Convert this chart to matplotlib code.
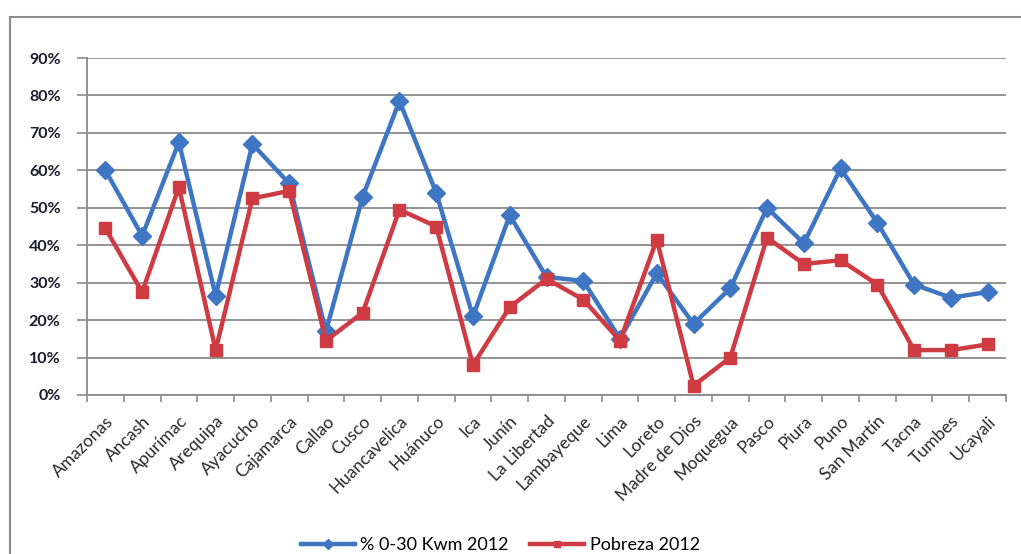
import numpy as np
import matplotlib.pyplot as plt
from matplotlib.patches import Rectangle
from matplotlib.ticker import FuncFormatter, FixedLocator

plt.rcParams['font.family'] = ['Lato', 'DejaVu Sans']

regiones = ['Amazonas', 'Ancash', 'Apurímac', 'Arequipa', 'Ayacucho', 'Cajamarca',
            'Callao', 'Cusco', 'Huancavelica', 'Huánuco', 'Ica', 'Junín',
            'La Libertad', 'Lambayeque', 'Lima', 'Loreto', 'Madre de Dios',
            'Moquegua', 'Pasco', 'Piura', 'Puno', 'San Martín', 'Tacna',
            'Tumbes', 'Ucayali']

# % hogares con consumo 0-30 kWh/mes
kwm_2012 = [60, 42.5, 67.5, 26.5, 67, 56.5, 17, 53, 78.5, 54, 21, 48,
            31.5, 30.5, 15, 32.5, 19, 28.5, 50, 40.5, 60.5, 46, 29.5, 26, 27.5]

# tasa de pobreza
pobreza_2012 = [44.5, 27.5, 55.5, 12, 52.5, 54.5, 14.5, 22, 49.5, 45, 8, 23.5,
                31, 25.5, 14.5, 41.5, 2.5, 10, 42, 35, 36, 29.5, 12, 12, 13.5]

azul = '#3f76c4'
rojo = '#cf3b43'

fig = plt.figure(figsize=(10.21, 5.54), dpi=100)
fig.patches.append(Rectangle((10 / 1021, -0.1), 1.2, 1 - 17 / 554 + 0.1,
                             transform=fig.transFigure, fill=False,
                             edgecolor='#8c8c8c', linewidth=1.5))

ax = fig.add_axes([87 / 1021, 1 - 395 / 554, 919 / 1021, 337 / 554])
x = np.arange(len(regiones))

ax.plot(x, kwm_2012, color=azul, linewidth=3.2, marker='D', markersize=9,
        label='% 0-30 Kwm 2012', zorder=3)
ax.plot(x, pobreza_2012, color=rojo, linewidth=3.2, marker='s', markersize=8,
        label='Pobreza 2012', zorder=3)

ax.set_xlim(-0.5, len(regiones) - 0.5)
ax.set_ylim(0, 90)
ax.set_yticks(np.arange(0, 91, 10))
ax.yaxis.set_major_formatter(FuncFormatter(lambda v, p: f'{v:.0f}%'))
ax.yaxis.grid(True, color='#8a8a8a', linewidth=1.3)
ax.set_axisbelow(True)

ax.set_xticks(x)
ax.set_xticklabels(regiones, rotation=45, ha='right', va='top',
                   rotation_mode='anchor')
ax.xaxis.set_minor_locator(FixedLocator(np.arange(-0.5, len(regiones), 1)))
ax.tick_params(axis='x', which='major', length=0, pad=13, labelsize=12.5,
               labelcolor='#2a2a2a')
ax.tick_params(axis='x', which='minor', length=5, color='#8a8a8a', width=1.2)
ax.tick_params(axis='y', length=7, color='#8a8a8a', width=1.2, labelsize=11.5,
               labelcolor='#1a1a2a', pad=12)
for lbl in ax.get_yticklabels():
    lbl.set_fontweight('bold')

for side in ['top', 'right']:
    ax.spines[side].set_visible(False)
ax.spines['left'].set_color('#8a8a8a')
ax.spines['bottom'].set_color('#8a8a8a')
ax.spines['left'].set_linewidth(1.3)
ax.spines['bottom'].set_linewidth(1.3)

fig.legend(loc='center', bbox_to_anchor=(0.49, 1 - 545 / 554), ncol=2,
           frameon=False, fontsize=13, handlelength=3.0, columnspacing=1.2,
           handletextpad=0.3, markerscale=0.6)

fig.savefig('out.png', dpi=100)
